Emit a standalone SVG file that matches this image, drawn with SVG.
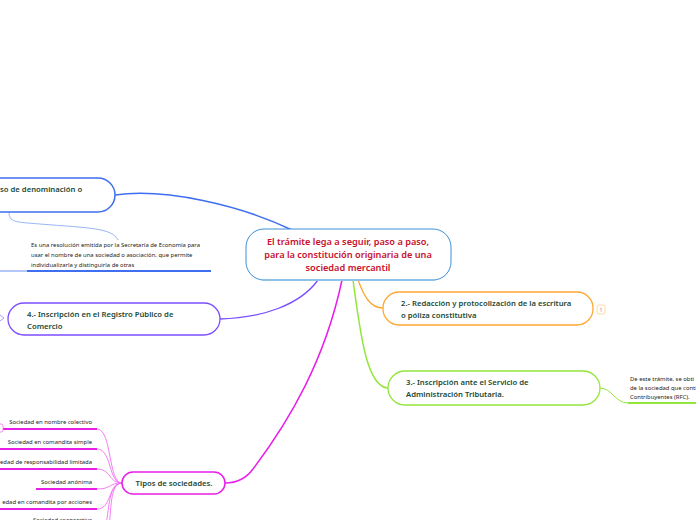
<svg xmlns="http://www.w3.org/2000/svg" width="696" height="520" viewBox="0 0 696 520">
<style>
.node{fill:#fff}
.t{font-family:"Noto Sans","Open Sans",sans-serif;font-weight:600;fill:#1b4a36;font-size:7.7px}
.small{font-family:"Noto Sans","Open Sans",sans-serif;fill:#222;font-size:5.9px}
.c{fill:none}
</style>
<rect width="696" height="520" fill="#fff"/>
<g id="connectors">
<path class="c" d="M115,195 C165,188 240,205 292,230" stroke="#3f6ff0" stroke-width="1.5"/>
<path class="c" d="M9,212 C9,222 14,222 40,224 C90,228 112,228 118,240" stroke="#9ab4f5" stroke-width="1"/>
<path class="c" d="M220,319 C262,318 300,305 318,280" stroke="#7c4dff" stroke-width="1.3"/>
<path class="c" d="M358,280 C364,296 370,308 383,308" stroke="#ffa733" stroke-width="1.3"/>
<path class="c" d="M353,280 C360,330 366,387 388,388" stroke="#93e63c" stroke-width="1.5"/>
<path class="c" d="M342,280 C325,360 290,420 253,469 C245,480 235,483 225,483" stroke="#e81ee8" stroke-width="1.5"/>
<path class="c" d="M600,388 C612,388 615,403 628,403 L696,403" stroke="#93e63c" stroke-width="1"/>
<path d="M628,403 L696,403" stroke="#93e63c" stroke-width="2"/>
<g stroke="#f070f0" stroke-width="0.9" fill="none">
<path d="M122,483 C108,483 112,429 97,429"/>
<path d="M122,483 C108,483 112,449 97,449"/>
<path d="M122,483 C108,483 112,469 97,469"/>
<path d="M122,483 C108,483 112,489 97,489"/>
<path d="M122,483 C108,483 112,509 97,509"/>
<path d="M122,483 C106,483 110,520 104,529"/>
<path d="M122,483 C108,483 112,520 108,530"/>
</g>
</g>
<g id="central">
<rect class="node" x="246" y="229" width="205" height="51" rx="18" stroke="#3d8fd6" stroke-width="1"/>
<path d="M262,280 L435,280" stroke="#8dc3ea" stroke-width="2"/>
<g font-family="'Noto Sans','Open Sans',sans-serif" font-weight="600" font-size="9.2" fill="#c8102e" text-anchor="middle">
<text x="348" y="245">El trámite lega a seguir, paso a paso,</text>
<text x="348" y="258">para la constitución originaria de una</text>
<text x="348" y="271">sociedad mercantil</text>
</g>
</g>
<g id="permiso">
<rect class="node" x="-30" y="178" width="145" height="34" rx="17" stroke="#3f6ff0" stroke-width="1.5"/>
<text class="t" x="0" y="192">so de denominación o</text>
</g>
<g id="permiso-nota">
<text class="small" x="31" y="247">Es una resolución emitida por la Secretaría de Economía para</text>
<text class="small" x="31" y="257">usar el nombre de una sociedad o asociación, que permite</text>
<text class="small" x="31" y="267">individualizarla y distinguirla de otras</text>
<path d="M27,271 L211,271" stroke="#3f6ff0" stroke-width="2"/>
<path d="M0,271 L27,271" stroke="#b4c8f8" stroke-width="2"/>
</g>
<g id="registro">
<rect class="node" x="8" y="303" width="212" height="32" rx="16" stroke="#7c4dff" stroke-width="1.3"/>
<text class="t" x="27" y="317">4.- Inscripción en el Registro Público de</text>
<text class="t" x="27" y="329">Comercio</text>
<path d="M0,315 L4,318 L0,321" fill="none" stroke="#b79cff" stroke-width="1"/>
</g>
<g id="redaccion">
<rect class="node" x="383" y="292" width="210" height="33" rx="16" stroke="#ffa733" stroke-width="1.3"/>
<text class="t" x="401" y="306">2.- Redacción y protocolización de la escritura</text>
<text class="t" x="401" y="318">o póliza constitutiva</text>
<rect x="597" y="305" width="8" height="9" rx="2" fill="#fff" stroke="#ffd28a" stroke-width="0.8"/>
<text x="601" y="312" font-family="'Noto Sans',sans-serif" font-size="5" fill="#888" text-anchor="middle">1</text>
</g>
<g id="sat">
<rect class="node" x="388" y="371" width="212" height="34" rx="17" stroke="#93e63c" stroke-width="1.3"/>
<text class="t" x="406" y="385">3.- Inscripción ante el Servicio de</text>
<text class="t" x="406" y="397">Administración Tributaria.</text>
</g>
<g id="sat-nota">
<text class="small" x="630" y="381">De este trámite, se obti</text>
<text class="small" x="630" y="390">de la sociedad que conti</text>
<text class="small" x="630" y="399">Contribuyentes (RFC).</text>
</g>
<g id="tipos">
<rect class="node" x="122" y="472" width="103" height="22" rx="11" stroke="#e81ee8" stroke-width="1.5"/>
<text class="t" x="174" y="486" text-anchor="middle" font-size="8.3">Tipos de sociedades.</text>
</g>
<g id="tipos-lista">
<g stroke="#e81ee8" stroke-width="2">
<path d="M0,429 L97,429"/>
<path d="M0,449 L97,449"/>
<path d="M0,469 L97,469"/>
<path d="M36,489 L97,489"/>
<path d="M0,509 L97,509"/>
</g>
<rect x="-6" y="424" width="9" height="8" rx="2" fill="#fff" stroke="#f070f0" stroke-width="0.8"/>
<g class="small" text-anchor="end">
<text x="92" y="424">Sociedad en nombre colectivo</text>
<text x="92" y="444">Sociedad en comandita simple</text>
<text x="92" y="464">edad de responsabilidad limitada</text>
<text x="92" y="484">Sociedad anónima</text>
<text x="92" y="504">edad en comandita por acciones</text>
<text x="92" y="522">Sociedad cooperativa</text>
</g>
</g>
</svg>
